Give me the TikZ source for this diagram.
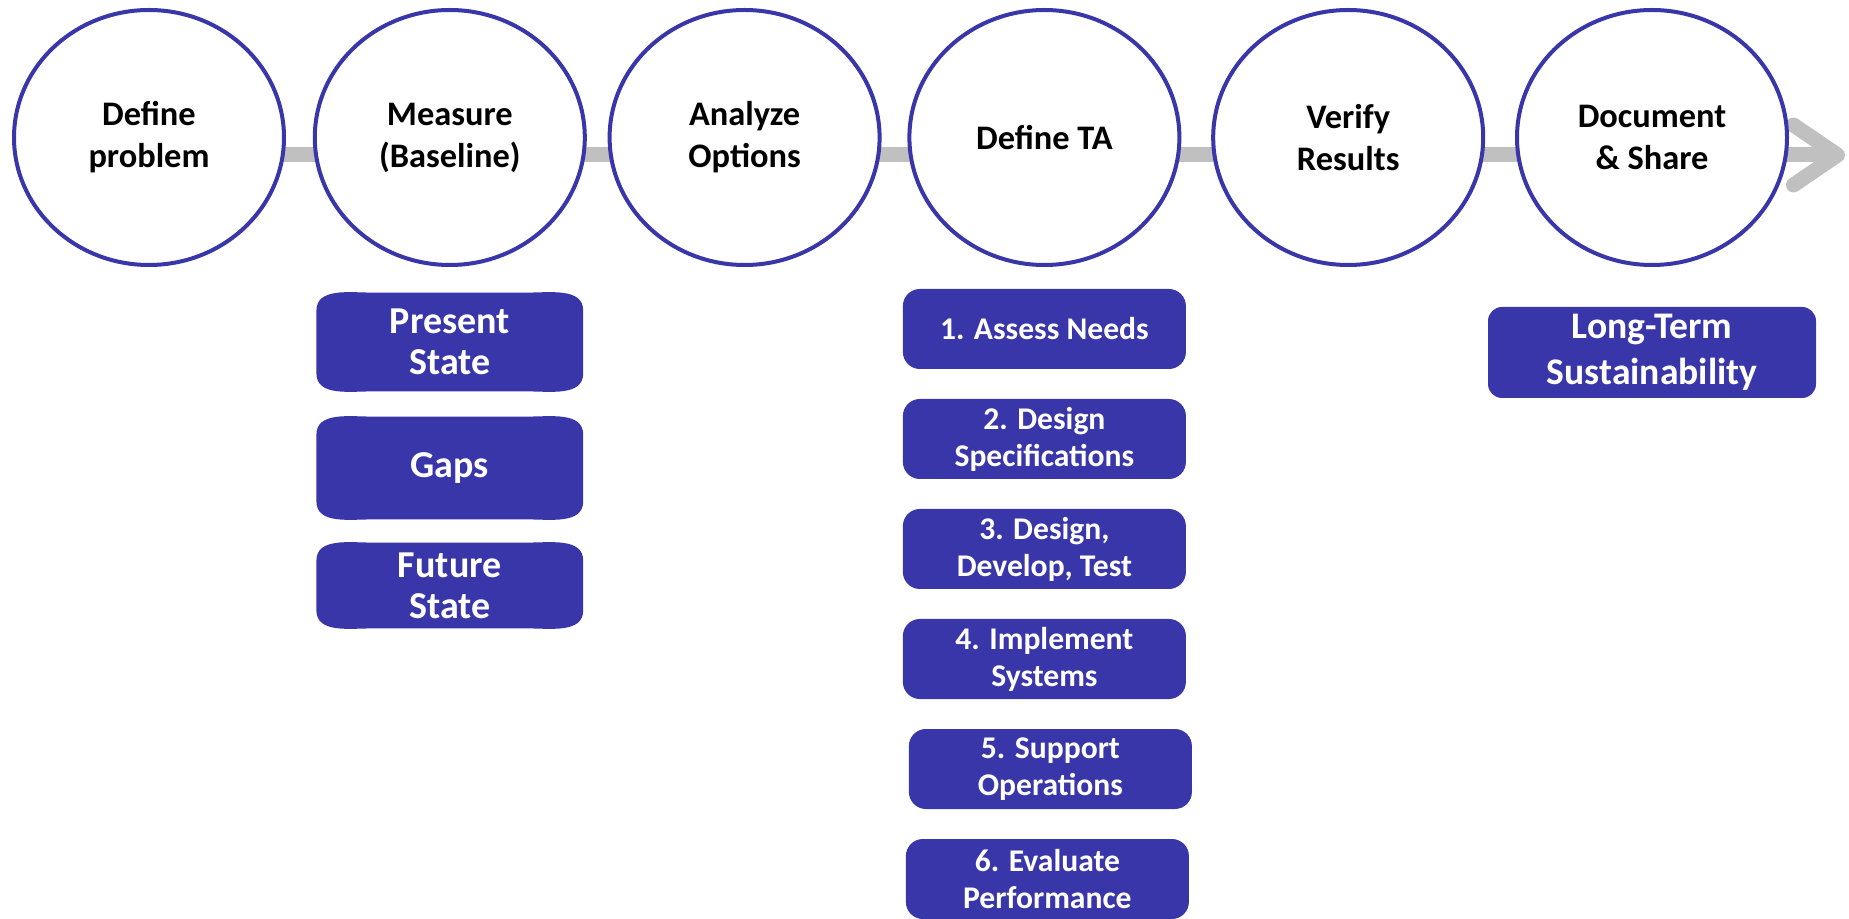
\documentclass[tikz,border=0pt]{standalone}
\usepackage{fontspec}
\setmainfont{Carlito}
\usetikzlibrary{
    arrows.meta, % for the open arrow tip at the end of the flow line
    backgrounds, % for the filled shapes behind the baseline boxes
    positioning, % for placing nodes relative to other nodes
    shapes.geometric % for the ellipse shape of the steps
}
\definecolor{stepblue}{RGB}{57,54,170}
\definecolor{flowgray}{RGB}{192,192,192}

\begin{document}
\begin{tikzpicture}[
        x=0.5pt,y=-0.5pt,node distance=150.4pt,on grid,
        step circle/.style = {ellipse,draw=stepblue,line width=2pt,fill=white,
                              minimum width=135pt,minimum height=127.5pt,inner sep=0pt,
                              align=center,font=\bfseries\fontsize{17.2}{21}\selectfont},
        base box/.style    = {minimum width=133pt,inner sep=0pt,align=center,text=white,
                              font=\bfseries\fontsize{19}{20.6}\selectfont},
        ta box/.style      = {rounded corners=8.5pt,fill=stepblue,minimum width=141.5pt,
                              minimum height=40pt,inner sep=0pt,align=center,text=white,
                              font=\bfseries\fontsize{15.8}{18.5}\selectfont},
        keep box/.style    = {rounded corners=7pt,fill=stepblue,minimum width=164pt,
                              minimum height=45.5pt,inner sep=0pt,align=center,text=white,
                              font=\bfseries\fontsize{18.8}{23}\selectfont},
        flow/.style        = {draw=flowgray,line width=7.5pt}
    ]
    \useasboundingbox (0,0) rectangle (1849,919);

    % flow line behind the steps
    \coordinate (start) at (149,155);
    \coordinate (tip)   at (1845,155);
    \draw [flow,-{Straight Barb[round,length=22pt,width=30pt]}] (start) -- (tip);

    % main steps
    \node [step circle] (define)   at (149,137.5)     {Define\\problem};
    \node [step circle] (measure)  [right=of define]  {Measure\\(Baseline)};
    \node [step circle] (analyze)  [right=of measure,xshift=-3pt] {Analyze\\Options};
    \node [step circle] (defineta) [right=of analyze,xshift=-0.5pt] {Define TA};
    \node [step circle] (verify)   [right=of defineta,xshift=1.5pt] {Verify\\Results};
    \node [step circle] (document) [right=of verify,xshift=1.5pt]  {Document\\\& Share};

    % baseline
    \node [base box,minimum height=49pt]   (present) [below=102.25pt of measure] {Present\\State};
    \node [base box,minimum height=51pt]   (gaps)    [below=63pt of present]     {Gaps};
    \node [base box,minimum height=42.5pt] (future)  [below=58.75pt of gaps]     {Future\\State};
    \begin{scope}[on background layer]
        \foreach \n in {present,gaps,future}
            \fill [stepblue] ([yshift=9pt]\n.south west) -- ([yshift=-9pt]\n.north west)
                to[out=90,in=180] ([xshift=28pt]\n.north west) -- ([xshift=-28pt]\n.north east)
                to[out=0,in=90] ([yshift=-9pt]\n.north east) -- ([yshift=9pt]\n.south east)
                to[out=-90,in=0] ([xshift=-28pt]\n.south east) -- ([xshift=28pt]\n.south west)
                to[out=180,in=-90] ([yshift=9pt]\n.south west) -- cycle;
    \end{scope}

    % TA steps
    \node [ta box] (assess)  [below=95.75pt of defineta] {1. Assess Needs};
    \node [ta box] (specs)   [below=55pt of assess]      {2. Design\\Specifications};
    \node [ta box] (develop) [below=55pt of specs]       {3. Design,\\Develop, Test};
    \node [ta box] (systems) [below=55pt of develop]     {4. Implement\\Systems};
    \node [ta box] (support) [below=55pt of systems,xshift=3pt] {5. Support\\Operations};
    \node [ta box] (perform) [below=55pt of support,xshift=-1.5pt] {6. Evaluate\\Performance};

    % sharing
    \node [keep box] (longterm) [below=107.5pt of document] {Long-Term\\Sustainability};

\end{tikzpicture}
\end{document}
